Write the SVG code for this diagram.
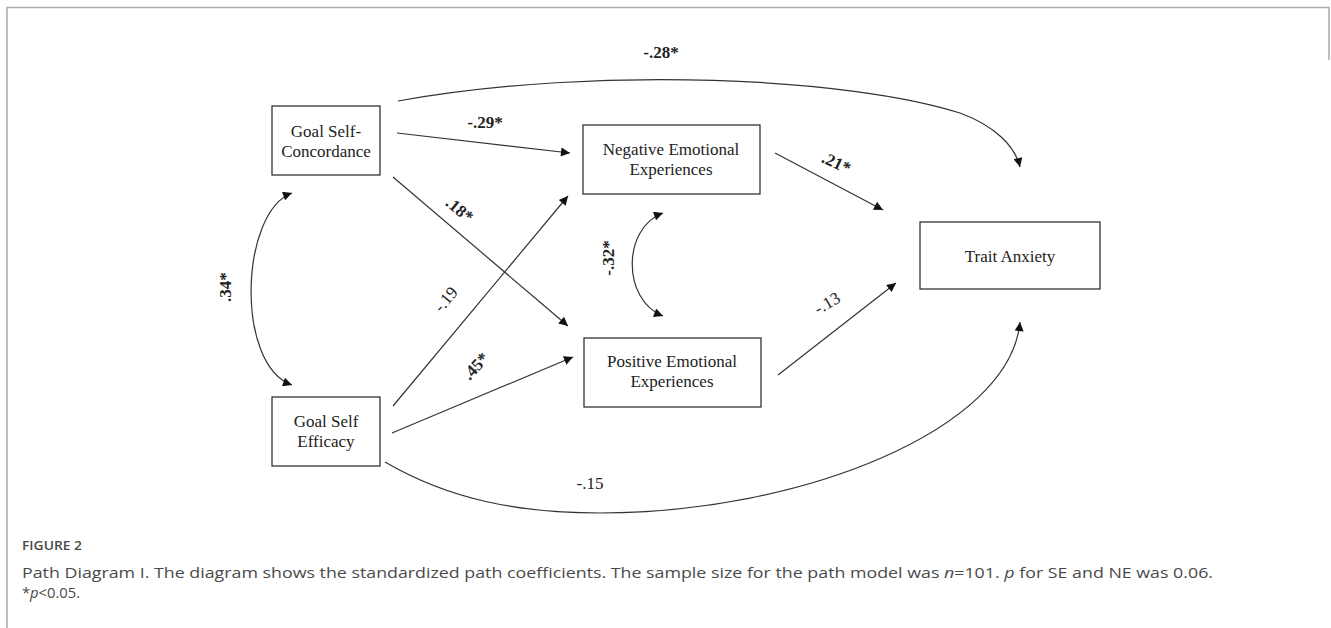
<svg xmlns="http://www.w3.org/2000/svg" width="1331" height="628" viewBox="0 0 1331 628">
<style>
.box{fill:#fff;stroke:#333;stroke-width:1.3}
.nt{font-family:"Liberation Serif","Times New Roman",serif;font-size:17px;fill:#222;text-anchor:middle}
.lb{font-family:"Liberation Serif","Times New Roman",serif;font-size:17px;fill:#222;text-anchor:middle}
.b{font-weight:bold}
.c{fill:none;stroke:#333;stroke-width:1.2}
.cap{font-family:"Open Sans","Noto Sans",sans-serif;fill:#4a4a4a}
</style>
<defs>
<marker id="ah" viewBox="0 0 10 10" refX="10" refY="5" markerWidth="12" markerHeight="9" markerUnits="userSpaceOnUse" orient="auto-start-reverse">
<path d="M0,0 L10,5 L0,10 z" fill="#111"/>
</marker>
</defs>
<rect width="1331" height="628" fill="#fff"/>
<g id="frame" fill="none" stroke="#aaa" stroke-width="1.5">
<path d="M7,628 L7,7.5 L1329,7.5 L1329,60"/>
</g>
<g id="connectors">
<path class="c" d="M398,101 C 600,65 850,78 960,113 C 995,126 1015,146 1020,167" marker-end="url(#ah)"/>
<path class="c" d="M397,133 L570,153" marker-end="url(#ah)"/>
<path class="c" d="M393,177 L568,326" marker-end="url(#ah)"/>
<path class="c" d="M393,406 L568,196" marker-end="url(#ah)"/>
<path class="c" d="M392,433 L573,357" marker-end="url(#ah)"/>
<path class="c" d="M775,153 L883,210" marker-end="url(#ah)"/>
<path class="c" d="M778,375 L896,283" marker-end="url(#ah)"/>
<path class="c" d="M385,462 C 450,500 520,513 600,513 C 800,513 1010,430 1020,322" marker-end="url(#ah)"/>
<path class="c" d="M292,193 C 240,212 235,365 292,385" marker-start="url(#ah)" marker-end="url(#ah)"/>
<path class="c" d="M663,213 C 622,228 622,300 663,316" marker-start="url(#ah)" marker-end="url(#ah)"/>
</g>
<g id="labels">
<text class="lb b" x="661" y="58">-.28*</text>
<text class="lb b" x="485" y="128">-.29*</text>
<text class="lb b" transform="translate(456,214) rotate(40)">.18*</text>
<text class="lb" transform="translate(450,303) rotate(-50)">-.19</text>
<text class="lb b" transform="translate(480,370) rotate(-47)">.45*</text>
<text class="lb b" transform="translate(834,168) rotate(25)">.21*</text>
<text class="lb" transform="translate(830,308) rotate(-30)">-.13</text>
<text class="lb" x="590" y="489">-.15</text>
<text class="lb b" transform="translate(614,258) rotate(-90)">-.32*</text>
<text class="lb b" transform="translate(231,287) rotate(-90)">.34*</text>
</g>
<g id="gsc">
<rect class="box" x="272" y="106" width="108" height="69"/>
<text class="nt" x="326" y="137">Goal Self-</text>
<text class="nt" x="326" y="157">Concordance</text>
</g>
<g id="gse">
<rect class="box" x="272" y="397" width="108" height="69"/>
<text class="nt" x="326" y="427">Goal Self</text>
<text class="nt" x="326" y="447">Efficacy</text>
</g>
<g id="nee">
<rect class="box" x="583" y="125" width="177" height="69"/>
<text class="nt" x="671" y="155">Negative Emotional</text>
<text class="nt" x="671" y="175">Experiences</text>
</g>
<g id="pee">
<rect class="box" x="584" y="338" width="177" height="69"/>
<text class="nt" x="672" y="367">Positive Emotional</text>
<text class="nt" x="672" y="387">Experiences</text>
</g>
<g id="ta">
<rect class="box" x="920" y="222" width="180" height="67"/>
<text class="nt" x="1010" y="262">Trait Anxiety</text>
</g>
<g id="caption">
<text class="cap" x="22" y="550" font-size="13" font-weight="600" textLength="60" lengthAdjust="spacingAndGlyphs">FIGURE 2</text>
<text class="cap" x="22" y="578" font-size="15" textLength="1191" lengthAdjust="spacingAndGlyphs">Path Diagram I. The diagram shows the standardized path coefficients. The sample size for the path model was <tspan font-style="italic">n</tspan>=101. <tspan font-style="italic">p</tspan> for SE and NE was 0.06.</text>
<text class="cap" x="22" y="598" font-size="15" textLength="58" lengthAdjust="spacingAndGlyphs">*<tspan font-style="italic">p</tspan>&lt;0.05.</text>
</g>
</svg>
